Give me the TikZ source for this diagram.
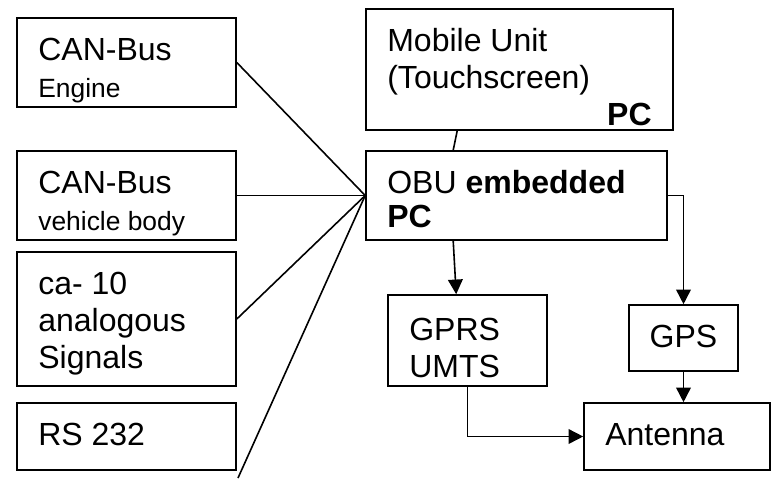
\documentclass[tikz,border=0pt]{standalone}
\usepackage{fontspec}
\setmainfont{Liberation Sans}
\usetikzlibrary{arrows.meta,calc,positioning}
\newcommand{\subfont}{\fontsize{19.8}{24}\selectfont}

\begin{document}
\begin{tikzpicture}[x=0.75pt,y=-0.75pt,
	blk/.style={draw,line width=1.2pt,align=flush left,inner xsep=16pt,inner ysep=0pt,
		text height=31.5pt,font=\fontsize{24}{27.75}\selectfont},
	arr/.style={line width=1.2pt,-{Triangle[length=11pt,width=11pt]}},
	wire/.style={line width=1.2pt}]
	\useasboundingbox (0,0) rectangle (771,480);
	% inputs on the left
	\node[blk,text width=132.25pt,text depth=35.25pt] (eng) at (126.5,62.5) {CAN-Bus\\\subfont Engine};
	\node[blk,text width=132.25pt,text depth=35.25pt] (body) at (126.5,195.5) {CAN-Bus\\\subfont vehicle body};
	\node[blk,text width=132.25pt,text depth=69pt] (sig) at (126.5,319) {ca- 10\\analogous\\Signals};
	\node[blk,text width=132.25pt,text depth=18.75pt] (rs) at (126.5,436.5) {RS 232};
	% computers
	\node[blk,text width=198.25pt,text depth=59.25pt] (mob) at (519.5,69.5) {Mobile Unit\\(Touchscreen)\\\mbox{}\hfill\textbf{PC}};
	\node[blk,text width=193.75pt,text depth=35.25pt] (obu) at (516.5,195.5) {OBU \textbf{embedded}\\[-2.25pt]\textbf{PC}};
	% radio side
	\node[blk,text width=87.25pt,text height=33.75pt,text depth=34.5pt] (gprs) at (467.5,340.5) {GPRS\\UMTS};
	\node[blk,align=flush center,inner xsep=10pt,text width=61.75pt,text depth=18pt] (gps) at (683.5,338) {GPS};
	\node[blk,text width=107.5pt,text depth=18.75pt] (ant) at (677,436.5) {Antenna};
	
	\coordinate (loose) at (238,478);
	\foreach \src in {eng.east,body.east,sig.east,loose}
		\draw[wire] (\src) -- (obu.west);
	\draw[wire] ([xshift=69pt]mob.south west) -- ([xshift=66pt]obu.north west);
	\draw[arr] ([xshift=66pt]obu.south west) -- ([xshift=51.75pt]gprs.north west);
	\draw[arr] (obu.east) -| (gps.north);
	\draw[arr] (gps.south) -- (gps.south |- ant.north);
	\draw[arr] (gprs.south) |- (ant.west);
\end{tikzpicture}
\end{document}
